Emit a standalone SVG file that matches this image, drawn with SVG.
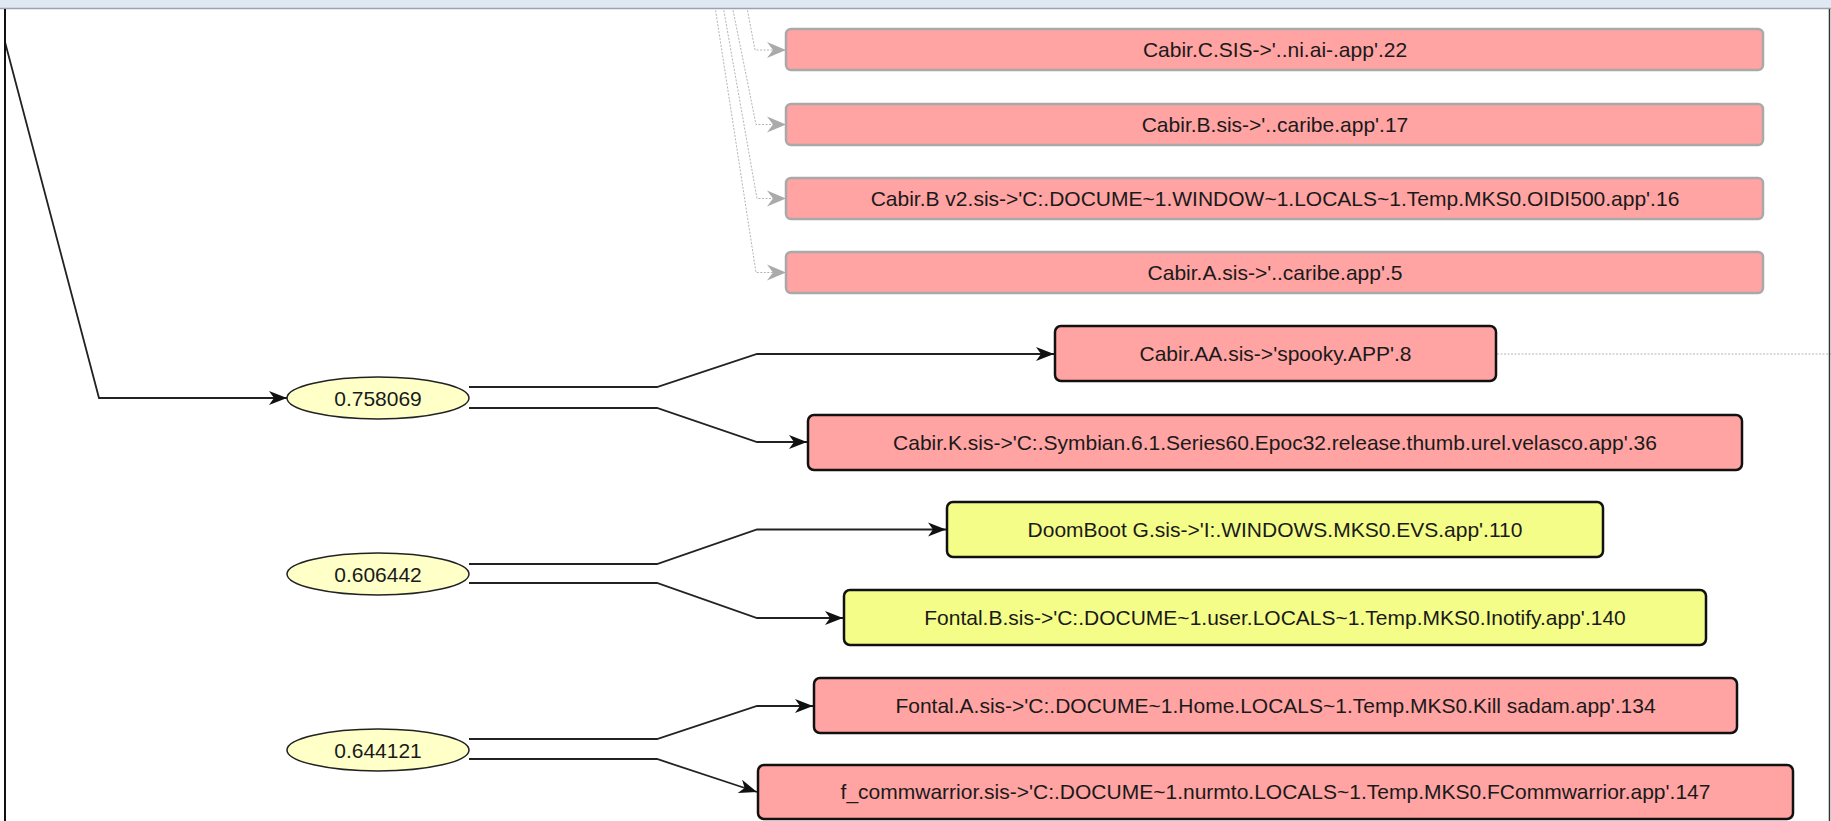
<svg xmlns="http://www.w3.org/2000/svg" width="1831" height="821" viewBox="0 0 1831 821">
<style>
text{font-family:"Liberation Sans",Arial,sans-serif;font-size:21px;fill:#1a1a1a;text-anchor:middle}
.fade rect{fill:#ffa3a3;stroke:#a9a9a9;stroke-width:2.5}
.act rect{fill:#ffa3a3;stroke:#111;stroke-width:2.5}
.yel rect{fill:#f4fd88;stroke:#111;stroke-width:2.5}
.ell ellipse{fill:#ffffc8;stroke:#222;stroke-width:1.5}
.e{fill:none;stroke:#222;stroke-width:1.8;marker-end:url(#ab)}
.d{fill:none;stroke:#b4b4b4;stroke-width:1;stroke-dasharray:2 1.5}
.dg{marker-end:url(#ag)}
</style>
<defs>
<marker id="ab" markerUnits="userSpaceOnUse" markerWidth="18" markerHeight="14" refX="18" refY="7" orient="auto" overflow="visible">
<path d="M0,0 L18,7 L0,14 L5,7 Z" fill="#111"/>
</marker>
<marker id="ag" markerUnits="userSpaceOnUse" markerWidth="19" markerHeight="16" refX="19" refY="8" orient="auto" overflow="visible">
<path d="M0,0 L19,8 L0,16 L6,8 Z" fill="#aaaaaa"/>
</marker>
</defs>
<rect x="0" y="0" width="1831" height="821" fill="#ffffff"/>
<g id="connectors">
<path class="e" d="M5,42 L99,398 L287,398"/>
<path class="e" d="M469,387 L657,387 L757,354 L1054,354"/>
<path class="e" d="M469,408 L657,408 L757,442 L807,442"/>
<path class="e" d="M469,564 L657,564 L757,529.5 L946,529.5"/>
<path class="e" d="M469,583 L657,583 L757,618 L843,618"/>
<path class="e" d="M469,739 L657,739 L757,706 L813,706"/>
<path class="e" d="M469,759 L657,759 L757,792"/>
<path class="d dg" d="M745.5,0 L755,50 L786,50"/>
<path class="d dg" d="M731,0 L756,124.5 L786,124.5"/>
<path class="d dg" d="M722,0 L757,198.5 L786,198.5"/>
<path class="d dg" d="M714,0 L756,272.5 L786,272.5"/>
<path class="d" d="M1497,354 L1831,354"/>
</g>
<g id="n_cabirC" class="fade"><rect x="786" y="29" width="977" height="41" rx="5"/><text x="1275" y="57">Cabir.C.SIS-&gt;'..ni.ai-.app'.22</text></g>
<g id="n_cabirB" class="fade"><rect x="786" y="104" width="977" height="41" rx="5"/><text x="1275" y="132">Cabir.B.sis-&gt;'..caribe.app'.17</text></g>
<g id="n_cabirBv2" class="fade"><rect x="786" y="178" width="977" height="41" rx="5"/><text x="1275" y="206">Cabir.B v2.sis-&gt;'C:.DOCUME~1.WINDOW~1.LOCALS~1.Temp.MKS0.OIDI500.app'.16</text></g>
<g id="n_cabirA" class="fade"><rect x="786" y="252" width="977" height="41" rx="5"/><text x="1275" y="280">Cabir.A.sis-&gt;'..caribe.app'.5</text></g>
<g id="n_e1" class="ell"><ellipse cx="378" cy="398" rx="91" ry="21"/><text x="378" y="405.5">0.758069</text></g>
<g id="n_e2" class="ell"><ellipse cx="378" cy="574" rx="91" ry="21"/><text x="378" y="581.5">0.606442</text></g>
<g id="n_e3" class="ell"><ellipse cx="378" cy="750" rx="91" ry="21"/><text x="378" y="757.5">0.644121</text></g>
<g id="n_cabirAA" class="act"><rect x="1055" y="326" width="441" height="55" rx="6"/><text x="1275.5" y="361">Cabir.AA.sis-&gt;'spooky.APP'.8</text></g>
<g id="n_cabirK" class="act"><rect x="808" y="415" width="934" height="55" rx="6"/><text x="1275" y="450">Cabir.K.sis-&gt;'C:.Symbian.6.1.Series60.Epoc32.release.thumb.urel.velasco.app'.36</text></g>
<g id="n_doomboot" class="yel"><rect x="947" y="502" width="656" height="55" rx="6"/><text x="1275" y="537">DoomBoot G.sis-&gt;'I:.WINDOWS.MKS0.EVS.app'.110</text></g>
<g id="n_fontalB" class="yel"><rect x="844" y="590" width="862" height="55" rx="6"/><text x="1275" y="625">Fontal.B.sis-&gt;'C:.DOCUME~1.user.LOCALS~1.Temp.MKS0.Inotify.app'.140</text></g>
<g id="n_fontalA" class="act"><rect x="814" y="678" width="923" height="55" rx="6"/><text x="1275.5" y="713">Fontal.A.sis-&gt;'C:.DOCUME~1.Home.LOCALS~1.Temp.MKS0.Kill sadam.app'.134</text></g>
<g id="n_fcomm" class="act"><rect x="758" y="765" width="1035" height="54" rx="6"/><text x="1275.5" y="799">f_commwarrior.sis-&gt;'C:.DOCUME~1.nurmto.LOCALS~1.Temp.MKS0.FCommwarrior.app'.147</text></g>
<g id="frame">
<rect x="0" y="0" width="1831" height="8" fill="#dfe8f3"/>
<line x1="0" y1="8.5" x2="1831" y2="8.5" stroke="#9aa3ad" stroke-width="1.5"/>
<line x1="5" y1="9" x2="5" y2="821" stroke="#111" stroke-width="2"/>
<line x1="1829.5" y1="9" x2="1829.5" y2="821" stroke="#333" stroke-width="1.5"/>
</g>
</svg>
